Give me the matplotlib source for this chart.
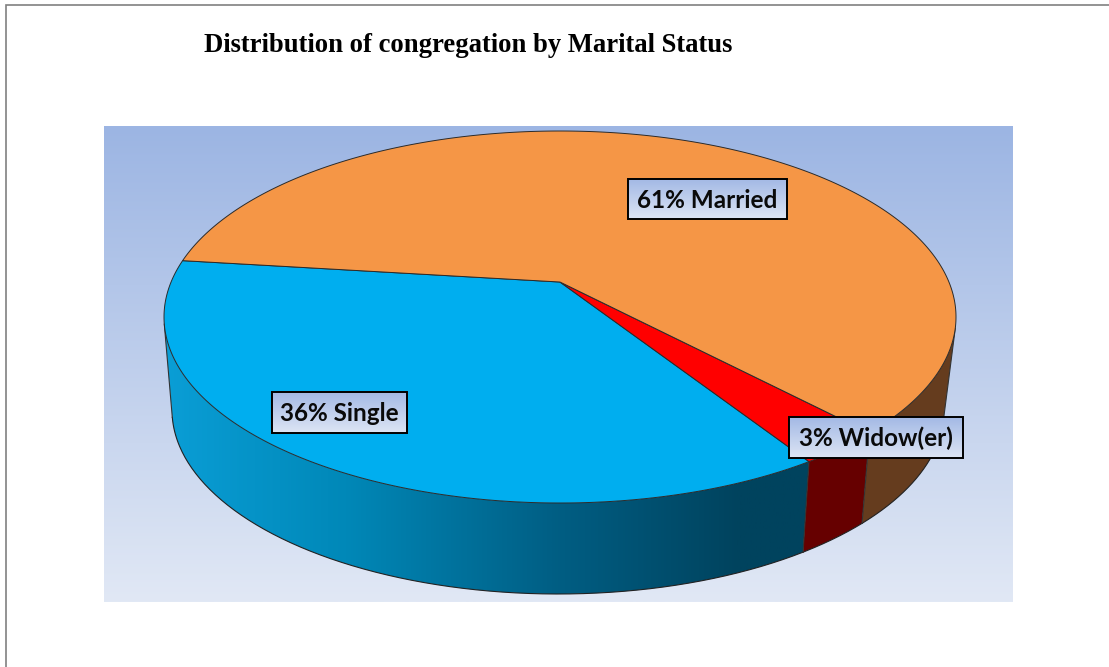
import numpy as np
import matplotlib
matplotlib.use("Agg")
import matplotlib.pyplot as plt
from matplotlib.colors import LinearSegmentedColormap
from matplotlib.patches import Polygon, Rectangle

# Slices, clockwise starting from the left side of the pie
labels = ["36% Single", "3% Widow(er)", "61% Married"]
shares = [36, 3, 61]
top_colors = ["#00aeef", "#ff0000", "#f59646"]
side_colors = [None, "#660000", "#653c1e"]
label_boxes = [(272, 392, 407, 433), (789, 417, 963, 458), (628, 179, 787, 219)]

start_angle = 173.0

# Ellipses in pixels: center x, center y, x radius, y radius, perspective shift
top_ellipse = (560, 317, 396, 186, 0.188)
bottom_ellipse = (558, 410, 386, 184, 0.2)

title = "Distribution of congregation by Marital Status"

plt.rcParams["font.family"] = ["Lato", "DejaVu Sans"]

fig = plt.figure(figsize=(11.09, 6.67), dpi=100)
ax = fig.add_axes([0, 0, 1, 1])


def rim(deg, ellipse):
    # Project a point of the round pie onto the tilted ellipse
    cx, cy, rx, ry, a = ellipse
    t = np.radians(deg)
    w = 1 + a * np.sin(t)
    x = np.cos(t) * np.sqrt(1 - a * a) / w
    y = (np.sin(t) + a) / w
    return np.column_stack([cx + rx * x, cy - ry * y])


def gradient(box, top_color, bottom_color):
    x0, y0, x1, y1 = box
    cmap = LinearSegmentedColormap.from_list("g", [top_color, bottom_color])
    return ax.imshow(np.linspace(0, 1, 256).reshape(-1, 1), cmap=cmap, aspect="auto",
                     extent=(x0, x1, y1, y0), zorder=1)


def tangent(search, side):
    # Angles where the straight side line touches both rims, side -1 left, 1 right
    top = rim(search, top_ellipse)
    bot = rim(search, bottom_ellipse)
    i = np.argmax(side * top[:, 0])
    j = np.argmax(side * bot[:, 0])
    for _ in range(8):
        below = bot[:, 1] > top[i, 1]
        slope = (bot[:, 0] - top[i, 0]) / np.where(below, bot[:, 1] - top[i, 1], np.inf)
        j = np.argmax(side * np.where(below, slope, -side * np.inf))
        above = top[:, 1] < bot[j, 1]
        slope = (top[:, 0] - bot[j, 0]) / np.where(above, bot[j, 1] - top[:, 1], np.inf)
        i = np.argmax(side * np.where(above, slope, -side * np.inf))
    return search[i], search[j]


# Plot area background
gradient((104, 126, 1013, 602), "#9cb5e3", "#e1e8f5")

# Slice boundaries in degrees
edges = [start_angle]
for s in shares:
    edges.append(edges[-1] + s * 3.6)

left_top, left_bot = tangent(np.arange(175.0, 240.0, 0.25), -1)
right_top, right_bot = tangent(np.arange(320.0, 385.0, 0.25), 1)

# Blue side wall shades from left to right
blue_side = LinearSegmentedColormap.from_list(
    "side", [(0, "#0a9ed6"), (0.28, "#0088b8"), (0.6, "#005f85"), (0.89, "#00435e"), (1, "#00435e")])

# Side walls, only what is on the front of the pie
wall_ranges = [(left_top, left_bot, edges[1], edges[1]),
               (edges[1], edges[1], edges[2], edges[2]),
               (edges[2], edges[2], right_top, right_bot)]
for i, (t0, b0, t1, b1) in enumerate(wall_ranges):
    up = rim(np.linspace(t0, t1, 200), top_ellipse)
    down = rim(np.linspace(b1, b0, 200), bottom_ellipse)
    outline = np.vstack([up, down])
    if side_colors[i] is None:
        patch = Polygon(outline, facecolor="none", edgecolor="none", zorder=2)
        ax.add_patch(patch)
        im = ax.imshow(np.linspace(0, 1, 512).reshape(1, -1), cmap=blue_side, aspect="auto",
                       extent=(164, 810, 610, 250), zorder=2)
        im.set_clip_path(patch)
    else:
        ax.add_patch(Polygon(outline, facecolor=side_colors[i], edgecolor="none", zorder=2))
    ax.plot(down[:, 0], down[:, 1], color="#222222", lw=0.8, zorder=3)

# Straight silhouette lines and the slice edges on the wall
wall_lines = [(left_top, left_bot), (edges[1], edges[1]), (edges[2], edges[2]), (right_top, right_bot)]
for t, b in wall_lines:
    p = np.vstack([rim(t, top_ellipse), rim(b, bottom_ellipse)])
    ax.plot(p[:, 0], p[:, 1], color="#333333", lw=0.8, zorder=3)

# Top face
apex = np.array([[top_ellipse[0], top_ellipse[1] - top_ellipse[3] * top_ellipse[4]]])
for i, s in enumerate(shares):
    angles = np.linspace(edges[i], edges[i + 1], max(int(s * 6), 12))
    pts = np.vstack([apex, rim(angles, top_ellipse)])
    ax.add_patch(Polygon(pts, closed=True, facecolor=top_colors[i], edgecolor="#2a2a2a",
                         lw=0.7, joinstyle="round", zorder=4))

# Data labels
for text, box in zip(labels, label_boxes):
    im = gradient(box, "#a3b9e5", "#dde5f4")
    im.set_zorder(5)
    x0, y0, x1, y1 = box
    ax.add_patch(Rectangle((x0, y0), x1 - x0, y1 - y0, fill=False, edgecolor="black", lw=1.4, zorder=6))
    ax.text((x0 + x1) / 2, (y0 + y1) / 2 + 1.2, text, ha="center", va="center",
            fontsize=17.5, fontweight="bold", color="#0a0a0a", zorder=7)

ax.text(204, 52, title, family="Liberation Serif", fontweight="bold", fontsize=19.2,
        color="black", ha="left", va="baseline")

# Page border, top and left only
ax.plot([1109, 6, 6], [4.5, 4.5, 667], color="#808080", lw=1.2, solid_joinstyle="miter")

ax.set_xlim(0, 1109)
ax.set_ylim(667, 0)
ax.axis("off")

fig.savefig("out.png", dpi=100, facecolor="white")
